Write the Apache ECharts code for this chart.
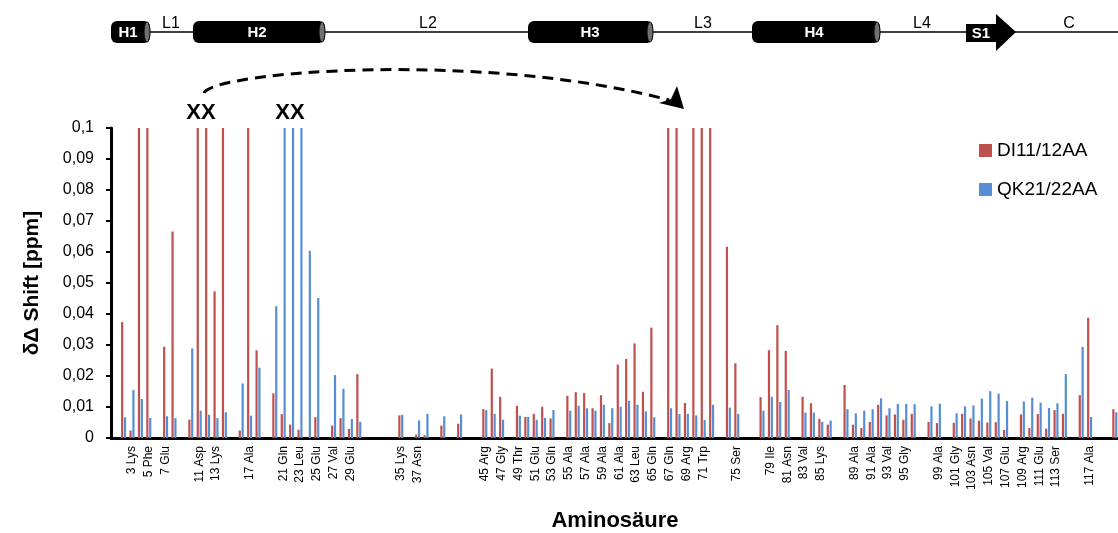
<!DOCTYPE html>
<html>
<head>
<meta charset="utf-8">
<title>Shift</title>
<script src="https://cdn.jsdelivr.net/npm/echarts@6/dist/echarts.min.js"></script>
<style>
    html, body { margin: 0; padding: 0; background: #fff; }
    #main { width: 1118px; height: 533px; }
</style>
</head>
<body>
<div id="main"></div>
<script>
// residues 1..120, one category each
var residues = [];
for (var i = 1; i <= 120; i++) residues.push(String(i));

// labelled residues under the axis
var tickLabels = [
    '3 Lys', '5 Phe', '7 Glu', '11 Asp', '13 Lys', '17 Ala', '21 Gln', '23 Leu', '25 Glu', '27 Val',
    '29 Glu', '35 Lys', '37 Asn', '45 Arg', '47 Gly', '49 Thr', '51 Glu', '53 Gln', '55 Ala', '57 Ala',
    '59 Ala', '61 Ala', '63 Leu', '65 Gln', '67 Gln', '69 Arg', '71 Trp', '75 Ser', '79 Ile', '81 Asn',
    '83 Val', '85 Lys', '89 Ala', '91 Ala', '93 Val', '95 Gly', '99 Ala', '101 Gly', '103 Asn', '105 Val',
    '107 Glu', '109 Arg', '111 Glu', '113 Ser', '117 Ala'
];

// DI11/12AA, residue 1..120 ('-' = no value, 0.1 = off scale)
var di1112 = [
    '-', 0.0374, 0.0024, 0.1, 0.1, '-', 0.0294, 0.0666, '-', 0.0059,
    0.1, 0.1, 0.0473, 0.1, '-', 0.0024, 0.1, 0.0283, '-', 0.0144,
    0.0077, 0.0043, 0.0027, '-', 0.0067, '-', 0.0040, 0.0064, 0.0029, 0.0206,
    '-', '-', '-', '-', 0.0073, '-', 0.0011, 0.0009, '-', 0.0040,
    '-', 0.0046, '-', '-', 0.0093, 0.0224, 0.0133, '-', 0.0104, 0.0068,
    0.0078, 0.0101, 0.0063, '-', 0.0136, 0.0148, 0.0145, 0.0096, 0.0138, 0.0048,
    0.0237, 0.0255, 0.0305, 0.0149, 0.0356, '-', 0.1, 0.1, 0.0113, 0.1,
    0.1, 0.1, '-', 0.0617, 0.0241, '-', '-', 0.0132, 0.0283, 0.0364,
    0.0281, '-', 0.0133, 0.0112, 0.0062, 0.0043, '-', 0.0171, 0.0043, 0.0032,
    0.0052, 0.0107, 0.0073, 0.0076, 0.0059, 0.0078, '-', 0.0052, 0.0048, '-',
    0.0049, 0.0078, 0.0063, 0.0056, 0.0050, 0.0051, 0.0026, '-', 0.0076, 0.0032,
    0.0077, 0.0030, 0.0090, 0.0078, '-', 0.0138, 0.0388, '-', '-', 0.0093
];

// QK21/22AA, residue 1..120
var qk2122 = [
    '-', 0.0067, 0.0155, 0.0126, 0.0065, '-', 0.0070, 0.0064, '-', 0.0289,
    0.0088, 0.0075, 0.0064, 0.0083, '-', 0.0176, 0.0072, 0.0227, '-', 0.0425,
    0.1, 0.1, 0.1, 0.0604, 0.0452, '-', 0.0203, 0.0159, 0.0061, 0.0052,
    '-', '-', '-', '-', 0.0075, '-', 0.0057, 0.0078, '-', 0.0070,
    '-', 0.0076, '-', '-', 0.0090, 0.0078, 0.0059, '-', 0.0072, 0.0068,
    0.0059, 0.0065, 0.0090, '-', 0.0088, 0.0104, 0.0096, 0.0088, 0.0107, 0.0096,
    0.0101, 0.0120, 0.0107, 0.0086, 0.0067, '-', 0.0096, 0.0077, 0.0078, 0.0073,
    0.0058, 0.0107, '-', 0.0098, 0.0078, '-', '-', 0.0088, 0.0133, 0.0116,
    0.0155, '-', 0.0082, 0.0082, 0.0052, 0.0056, '-', 0.0093, 0.0080, 0.0088,
    0.0093, 0.0128, 0.0096, 0.0110, 0.0110, 0.0109, '-', 0.0102, 0.0111, '-',
    0.0080, 0.0102, 0.0105, 0.0127, 0.0151, 0.0143, 0.0119, '-', 0.0118, 0.0130,
    0.0114, 0.0097, 0.0112, 0.0206, '-', 0.0294, 0.0068, '-', '-', 0.0083
];

var RED = '#c0504d',
    BLUE = '#558ed5',
    FONT = 'Liberation Sans, Arial, sans-serif';

function labelFor(res){
    for (var k = 0; k < tickLabels.length; k++) {
        if (tickLabels[k].split(' ')[0] === res) return tickLabels[k];
    }
    return '';
}

// secondary structure sketch on top
function cylinder(x, w, name, tx){
    return [{
        type: 'rect',
        shape: { x: x, y: 21, width: w, height: 22, r: 6 },
        style: { fill: '#000' }
    }, {
        type: 'ellipse',
        shape: { cx: x + w - 3, cy: 32, rx: 3, ry: 10 },
        style: { fill: '#707070', stroke: '#000', lineWidth: 1 }
    }, {
        type: 'text',
        x: tx, y: 33,
        style: { text: name, fill: '#fff', font: 'bold 15px ' + FONT, align: 'center', verticalAlign: 'middle' }
    }];
}

function loopLabel(text, x){
    return {
        type: 'text', x: x, y: 24,
        style: { text: text, fill: '#000', font: '16px ' + FONT, align: 'center', verticalAlign: 'middle' }
    };
}

var graphics = [{
    type: 'line',
    shape: { x1: 150, y1: 32, x2: 1118, y2: 32 },
    style: { stroke: '#000', lineWidth: 1.5 }
}].concat(
    cylinder(111, 39, 'H1', 128),
    cylinder(193, 132, 'H2', 257),
    cylinder(528, 125, 'H3', 590),
    cylinder(752, 128, 'H4', 814),
    [{
        type: 'rect',
        shape: { x: 966, y: 24, width: 31, height: 18 },
        style: { fill: '#000' }
    }, {
        type: 'polygon',
        shape: { points: [[996, 14], [1016, 32], [996, 51]] },
        style: { fill: '#000' }
    }, {
        type: 'text', x: 981, y: 34,
        style: { text: 'S1', fill: '#fff', font: 'bold 15px ' + FONT, align: 'center', verticalAlign: 'middle' }
    },
    loopLabel('L1', 171), loopLabel('L2', 428), loopLabel('L3', 703),
    loopLabel('L4', 922), loopLabel('C', 1069),
    {
        type: 'bezierCurve',
        shape: { x1: 204, y1: 93, cpx1: 212, cpy1: 72, cpx2: 480, cpy2: 50, x2: 669, y2: 100 },
        style: { stroke: '#000', lineWidth: 3, lineDash: [11, 7], fill: null }
    }, {
        type: 'polygon',
        shape: { points: [[684, 109], [659, 103], [671, 99], [677, 86]] },
        style: { fill: '#000' }
    }, {
        type: 'text', x: 201, y: 113,
        style: { text: 'XX', fill: '#000', font: 'bold 22px ' + FONT, align: 'center', verticalAlign: 'middle' }
    }, {
        type: 'text', x: 290, y: 113,
        style: { text: 'XX', fill: '#000', font: 'bold 22px ' + FONT, align: 'center', verticalAlign: 'middle' }
    }]
);

var myChart = echarts.init(document.getElementById('main'), null, { renderer: 'canvas' });

var option = {
    animation: false,
    backgroundColor: '#fff',
    textStyle: { fontFamily: FONT, color: '#000' },
    grid: {
        left: 111, top: 128, width: 1008, height: 310,
        containLabel: false,
        outerBoundsMode: 'none'
    },
    legend: {
        orient: 'vertical',
        left: 979,
        top: 141,
        padding: 0,
        itemWidth: 13,
        itemHeight: 13,
        itemGap: 20,
        icon: 'rect',
        textStyle: { fontSize: 19, color: '#000', fontFamily: FONT },
        data: ['DI11/12AA', 'QK21/22AA']
    },
    xAxis: {
        type: 'category',
        data: residues,
        name: 'Aminosäure',
        nameLocation: 'middle',
        nameGap: 72,
        nameTextStyle: { fontSize: 22, fontWeight: 'bold', color: '#000' },
        axisLine: { lineStyle: { color: '#000', width: 3 } },
        axisTick: { interval: 0, length: 4, lineStyle: { color: '#000', width: 2 } },
        axisLabel: {
            interval: 0,
            rotate: 90,
            margin: 8,
            fontSize: 12,
            color: '#000',
            formatter: labelFor
        }
    },
    yAxis: {
        type: 'value',
        min: 0,
        max: 0.1,
        interval: 0.01,
        name: 'δΔ Shift [ppm]',
        nameLocation: 'middle',
        nameGap: 68,
        nameTextStyle: { fontSize: 21, fontWeight: 'bold', color: '#000' },
        axisLine: { show: true, lineStyle: { color: '#000', width: 3 } },
        axisTick: { show: true, length: 5, lineStyle: { color: '#000', width: 2 } },
        splitLine: { show: false },
        axisLabel: {
            fontSize: 16,
            color: '#000',
            margin: 17,
            formatter: function(v){
                return v === 0 ? '0' : String(+v.toFixed(2)).replace('.', ',');
            }
        }
    },
    series: [{
        name: 'DI11/12AA',
        type: 'bar',
        data: di1112,
        barWidth: 2.2,
        barGap: '30%',
        clip: true,
        itemStyle: { color: RED }
    }, {
        name: 'QK21/22AA',
        type: 'bar',
        data: qk2122,
        barWidth: 2.2,
        clip: true,
        itemStyle: { color: BLUE }
    }],
    graphic: graphics
};

myChart.setOption(option);
</script>
</body>
</html>
